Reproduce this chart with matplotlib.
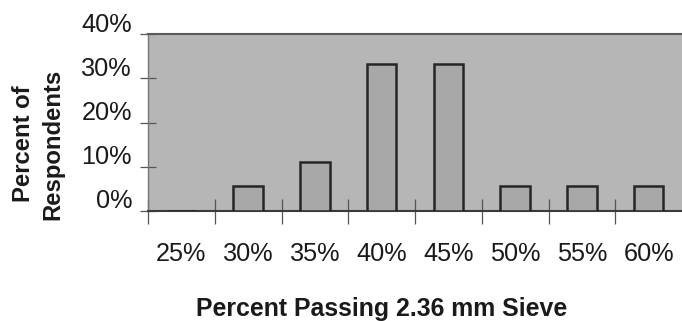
import matplotlib
matplotlib.use("Agg")
import matplotlib.pyplot as plt
import matplotlib.transforms as mtransforms
import numpy as np

# Survey results: share of respondents per gradation target
categories = ["25%", "30%", "35%", "40%", "45%", "50%", "55%", "60%"]
respondent_pct = [0.0, 5.6, 11.1, 33.3, 33.3, 5.6, 5.6, 5.6]
y_ticks = [0, 10, 20, 30, 40]
y_tick_labels = ["0%", "10%", "20%", "30%", "40%"]

plt.rcParams["font.family"] = ["Liberation Sans", "DejaVu Sans"]

fig = plt.figure(figsize=(6.82, 3.21), dpi=100)
ax = fig.add_axes([148 / 682, 1 - 211 / 321, 1 - 148 / 682, (211 - 34) / 321])
ax.set_facecolor("#b6b6b6")

x = np.arange(len(categories))
ax.bar(x, respondent_pct, width=0.44, color="#a8a8a8", edgecolor="#262626",
       linewidth=1.8, zorder=3)

ax.set_xlim(-0.5, len(categories) - 0.5)
ax.set_ylim(0, 40)

# Boundary ticks between categories, labels at category centres
ax.set_xticks(np.arange(-0.5, len(categories) - 0.5, 1.0))
ax.set_xticklabels([])
ax.set_xticks(x, minor=True)
ax.set_xticklabels(categories, minor=True)
ax.tick_params(axis="x", which="major", direction="inout", length=18,
               width=0.9, color="#555555")
ax.tick_params(axis="x", which="minor", length=0, pad=22,
               labelsize=18.2, labelcolor="#1a1a1a")

ax.set_yticks(y_ticks)
ax.set_yticklabels(y_tick_labels)
ax.tick_params(axis="y", direction="inout", length=11, width=0.9,
               color="#555555", pad=6, labelsize=18.2, labelcolor="#1a1a1a")
shift = mtransforms.ScaledTranslation(0, 12 / 100, fig.dpi_scale_trans)
for lbl in ax.get_yticklabels():
    lbl.set_transform(lbl.get_transform() + shift)

ax.spines["right"].set_visible(False)
ax.spines["top"].set_color("#5a5a5a")
ax.spines["top"].set_linewidth(1.5)
ax.spines["left"].set_color("#777777")
ax.spines["left"].set_linewidth(1.0)
ax.spines["bottom"].set_color("#3a3a3a")
ax.spines["bottom"].set_linewidth(1.5)

fig.text(382 / 682, 1 - 309 / 321, "Percent Passing 2.36 mm Sieve",
         ha="center", va="center", fontsize=17.9, fontweight="bold",
         color="#1a1a1a")
fig.text(38 / 682, 1 - 144 / 321, "Percent of\nRespondents", rotation=90,
         ha="center", va="center", fontsize=17.2, fontweight="bold",
         color="#1a1a1a", linespacing=1.35, multialignment="center")

fig.savefig("out.png", dpi=100)
